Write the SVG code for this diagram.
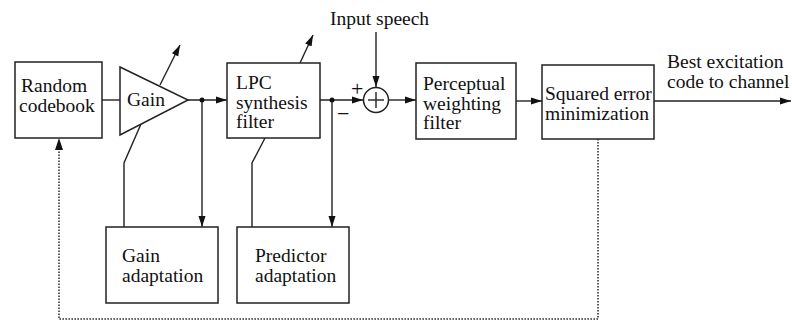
<svg xmlns="http://www.w3.org/2000/svg" width="792" height="321" viewBox="0 0 792 321">
<style>
.box{fill:#fff;stroke:#222;stroke-width:1.5}
.ln{fill:none;stroke:#222;stroke-width:1.4}
.dot{fill:none;stroke:#333;stroke-width:1.6;stroke-dasharray:1.6 1.4}
.t{font-family:'Liberation Serif','DejaVu Serif',serif;font-size:19.5px;fill:#111}
.s{font-family:'Liberation Serif','DejaVu Serif',serif;font-size:22px;fill:#111}
</style>
<defs>
<marker id="ah" markerUnits="userSpaceOnUse" markerWidth="12" markerHeight="8" refX="11" refY="4" orient="auto">
<path d="M0,0.5 L11,4 L0,7.5 z" fill="#111"/>
</marker>
</defs>
<rect width="792" height="321" fill="#fff"/>
<g id="connectors">
<line class="ln" x1="102" y1="100" x2="120" y2="100"/>
<line class="ln" x1="188" y1="100" x2="227" y2="100" marker-end="url(#ah)"/>
<line class="ln" x1="320" y1="100" x2="363" y2="100" marker-end="url(#ah)"/>
<line class="ln" x1="376" y1="32" x2="376" y2="87" marker-end="url(#ah)"/>
<line class="ln" x1="389" y1="100" x2="416" y2="100" marker-end="url(#ah)"/>
<line class="ln" x1="516" y1="101" x2="542" y2="101" marker-end="url(#ah)"/>
<line class="ln" x1="654" y1="101" x2="791" y2="101" marker-end="url(#ah)"/>
<line class="ln" x1="160" y1="85" x2="180" y2="45" marker-end="url(#ah)"/>
<line class="ln" x1="300" y1="63" x2="313" y2="35" marker-end="url(#ah)"/>
<line class="ln" x1="202" y1="100" x2="202" y2="227" marker-end="url(#ah)"/>
<line class="ln" x1="332" y1="100" x2="332" y2="227" marker-end="url(#ah)"/>
<polyline class="ln" points="124,227 124,163 141,124"/>
<polyline class="ln" points="252,227 252,163 265,138"/>
<polyline class="dot" points="598,139 598,319 59,319 59,150"/>
<path d="M59,138 L55,150 L63,150 z" fill="#111"/>
<circle cx="202" cy="100" r="2.5" fill="#111"/>
<circle cx="332" cy="100" r="2.5" fill="#111"/>
</g>
<g id="codebook">
<rect class="box" x="15" y="62" width="87" height="76"/>
<text class="t" x="21" y="92">Random</text>
<text class="t" x="19" y="112">codebook</text>
</g>
<g id="gain">
<polygon class="box" points="120,67 188,100 120,135"/>
<text class="t" x="127" y="106">Gain</text>
</g>
<g id="lpc">
<rect class="box" x="227" y="63" width="93" height="75"/>
<text class="t" x="236" y="89">LPC</text>
<text class="t" x="236" y="109">synthesis</text>
<text class="t" x="236" y="128">filter</text>
</g>
<g id="sum">
<circle class="box" cx="376" cy="100" r="12.5"/>
<line class="ln" x1="368" y1="100" x2="384" y2="100"/>
<line class="ln" x1="376" y1="92" x2="376" y2="108"/>
<text class="s" x="351" y="96">+</text>
<text class="s" x="337" y="121">−</text>
<text class="t" x="330" y="25">Input speech</text>
</g>
<g id="perceptual">
<rect class="box" x="416" y="63" width="100" height="76"/>
<text class="t" x="423" y="90">Perceptual</text>
<text class="t" x="423" y="110">weighting</text>
<text class="t" x="423" y="129">filter</text>
</g>
<g id="squared">
<rect class="box" x="542" y="65" width="112" height="74"/>
<text class="t" x="545" y="100">Squared error</text>
<text class="t" x="545" y="120">minimization</text>
<text class="t" x="667" y="68">Best excitation</text>
<text class="t" x="667" y="88">code to channel</text>
</g>
<g id="gainadapt">
<rect class="box" x="106" y="227" width="112" height="76"/>
<text class="t" x="122" y="262">Gain</text>
<text class="t" x="122" y="282">adaptation</text>
</g>
<g id="predadapt">
<rect class="box" x="237" y="227" width="112" height="76"/>
<text class="t" x="255" y="262">Predictor</text>
<text class="t" x="255" y="282">adaptation</text>
</g>
</svg>
